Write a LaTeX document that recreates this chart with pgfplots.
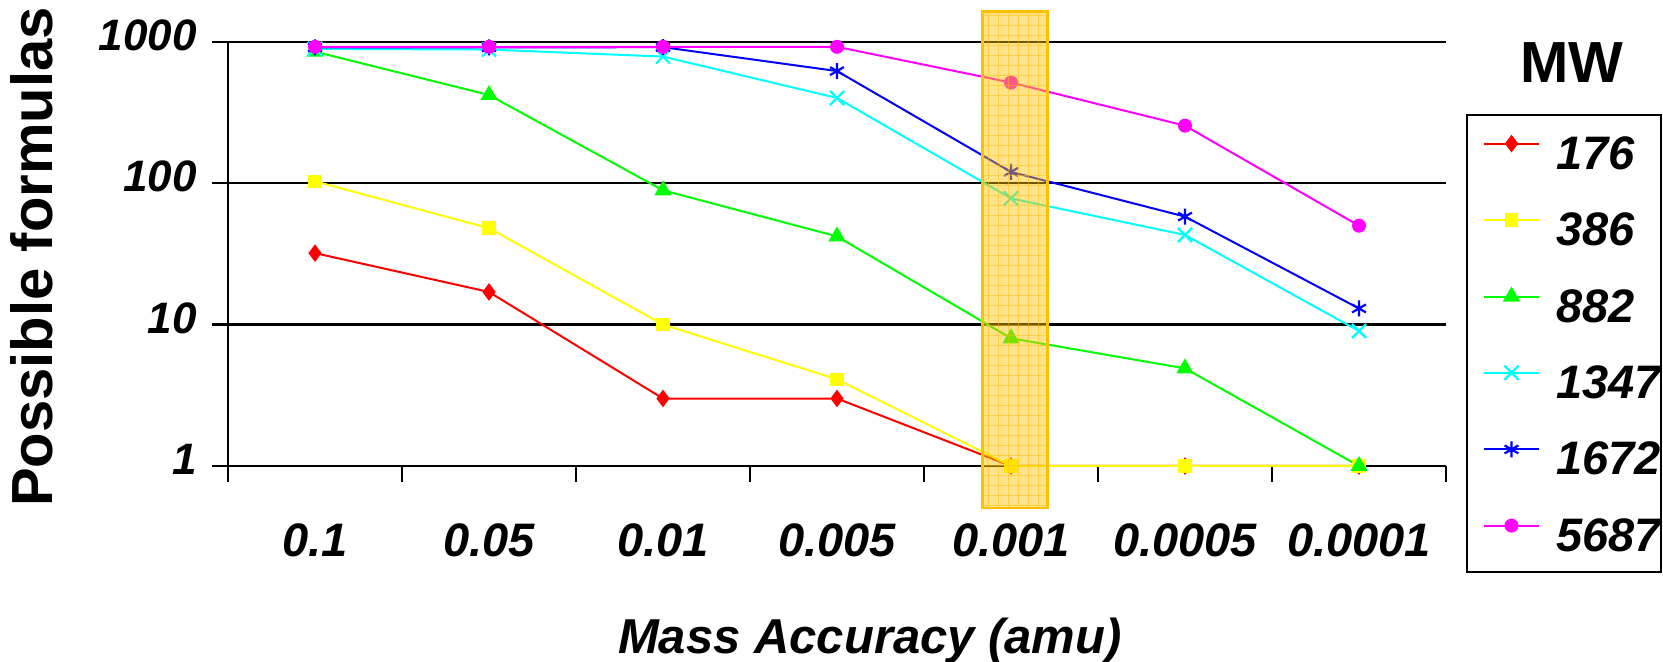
\documentclass[border=0pt]{standalone}
\usepackage{pgfplots}
\pgfplotsset{compat=1.18}
\usepackage{fontspec}
\setmainfont{Liberation Sans}
\definecolor{sRed}{HTML}{FF0000}
\definecolor{sYel}{HTML}{FFFF00}
\definecolor{sGrn}{HTML}{00FF00}
\definecolor{sCyn}{HTML}{00FFFF}
\definecolor{sBlu}{HTML}{0000FF}
\definecolor{sMag}{HTML}{FF00FF}
\definecolor{hl}{HTML}{FFC000}
\begin{document}
\begin{tikzpicture}
\path[use as bounding box] (-114pt,-98pt) rectangle (717.5pt,233pt);
\begin{axis}[
  name=ax, at={(0pt,0pt)}, anchor=south west,
  scale only axis, width=609pt, height=212.15pt,
  ymode=log, ymin=1, ymax=1000, xmin=-0.5, xmax=6.5,
  axis lines=left, axis line style={-, black, line width=1.1pt},
  clip=false,
  /pgf/number format/assume math mode=true,
  ytick={1,10,100,1000}, yticklabels={1,10,100,1000},
  yminorticks=false,
  xtick={-0.5,0.5,1.5,2.5,3.5,4.5,5.5,6.5}, xticklabels={,,,,,,,},
  extra x ticks={0,1,2,3,4,5,6},
  extra x tick labels={0.1,0.05,0.01,0.005,0.001,0.0005,0.0001},
  extra x tick style={grid=none, major tick length=0pt,
     xticklabel style={anchor=base, inner sep=0pt, yshift=-45.5pt, font=\fontsize{23.5}{23.5}\selectfont\bfseries\itshape}},
  tick align=outside, major tick length=8pt,
  tick style={black, line width=1.1pt},
  ymajorgrids, grid style={black, line width=1.1pt},
  yticklabel style={anchor=east, inner sep=0pt, xshift=-7.5pt, yshift=3.3pt, font=\fontsize{22}{22}\selectfont\bfseries\itshape},
  every axis plot/.append style={line width=1pt},
  legend style={at={(1,1)}, anchor=north west, xshift=10pt, yshift=-36.2pt,
     draw=black, line width=1pt, fill=white, inner xsep=8pt, inner ysep=10.5pt, row sep=21.6pt,
     font=\fontsize{23.5}{23.5}\selectfont\bfseries\itshape,
     nodes={inner sep=0pt, text height=16.5pt, text depth=0pt, text width=44.5pt, align=left},
     /tikz/every odd column/.append style={column sep=8pt}},
  legend cell align=left,
  legend image code/.code={\draw[mark repeat=2,mark phase=2,#1] plot coordinates {(0pt,4.5pt) (13.75pt,4.5pt) (27.5pt,4.5pt)};},
]
\addplot[color=sRed, mark=diamond*, mark size=3.6pt, mark options={solid, fill=sRed}] coordinates {(0,32) (1,17) (2,3) (3,3) (4,1) (5,1) (6,1)};
\addlegendentry{176}
\addplot[color=sYel, mark=square*, mark size=2.9pt, mark options={solid, fill=sYel}] coordinates {(0,103) (1,48) (2,10) (3,4.1) (4,1) (5,1) (6,1)};
\addlegendentry{386}
\addplot[color=sGrn, mark=triangle*, mark size=4pt, mark options={solid, fill=sGrn}] coordinates {(0,850) (1,420) (2,89) (3,42) (4,8) (5,4.9) (6,1)};
\addlegendentry{882}
\addplot[color=sCyn, mark=x, mark size=5pt, mark options={solid, line width=1.1pt}] coordinates {(0,890) (1,880) (2,785) (3,400) (4,78) (5,43) (6,9)};
\addlegendentry{1347}
\addplot[color=sBlu, mark=asterisk, mark size=4pt, mark options={solid, line width=1.1pt}] coordinates {(0,910) (1,910) (2,915) (3,620) (4,120) (5,58) (6,13)};
\addlegendentry{1672}
\addplot[color=sMag, mark=*, mark size=3pt, mark options={solid, fill=sMag}] coordinates {(0,920) (1,920) (2,920) (3,920) (4,514) (5,255) (6,50)};
\addlegendentry{5687}
\coordinate (hlA) at (axis cs:3.837,0.505);
\coordinate (hlB) at (axis cs:4.209,1630);
\end{axis}
\fill[hl, fill opacity=0.45] (hlA) rectangle (hlB);
\begin{scope}
\clip (hlA) rectangle (hlB);
\draw[hl, opacity=0.5, line width=0.5pt, step=5pt] ([shift={(-5pt,-5pt)}]hlA) grid ([shift={(5pt,5pt)}]hlB);
\end{scope}
\draw[hl, line width=1.2pt] (hlA) rectangle (hlB);
\node[rotate=90, anchor=base, font=\fontsize{29}{29}\selectfont\bfseries] at ([xshift=-87.5pt, yshift=-1.6pt]ax.west) {Possible formulas};
\node[anchor=base, font=\fontsize{24.5}{24.5}\selectfont\bfseries\itshape] at ([xshift=16.5pt, yshift=-93.5pt]ax.south) {Mass Accuracy (amu)};
\node[anchor=base, font=\fontsize{29}{29}\selectfont\bfseries] at ([xshift=672pt, yshift=-20.2pt]ax.north west) {MW};
\end{tikzpicture}
\end{document}
